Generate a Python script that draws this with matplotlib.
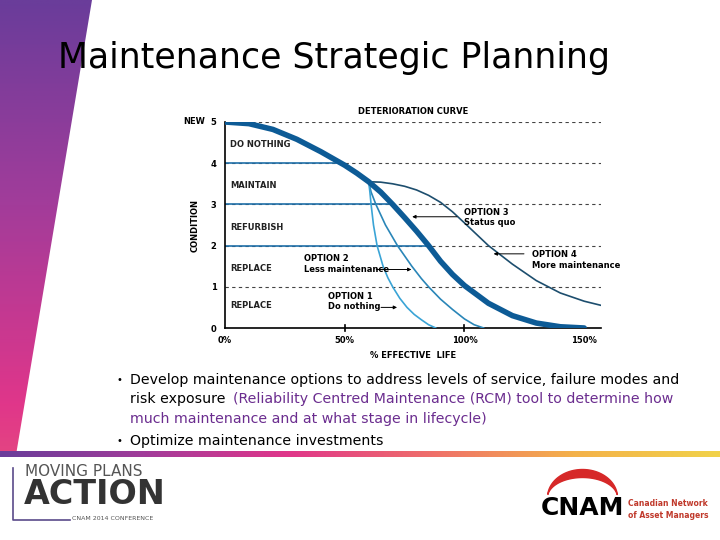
import numpy as np
import matplotlib
matplotlib.use("Agg")
import matplotlib.pyplot as plt
from matplotlib.patches import Polygon
from matplotlib.colors import LinearSegmentedColormap

main_x = [0, 10, 20, 30, 40, 50, 55, 60, 65, 70, 75, 80, 85, 90, 95, 100, 110, 120, 130, 140, 150]
main_y = [5, 4.96, 4.82, 4.58, 4.28, 3.95, 3.76, 3.55, 3.3, 3.0, 2.68, 2.35, 2.0, 1.62, 1.3, 1.03, 0.6, 0.3, 0.12, 0.03, 0]
opt4_x = [60, 65, 70, 75, 80, 85, 90, 95, 100, 110, 120, 130, 140, 150, 157]
opt4_y = [3.55, 3.54, 3.5, 3.44, 3.35, 3.22, 3.05, 2.82, 2.55, 2.0, 1.55, 1.15, 0.85, 0.65, 0.55]
opt2_x = [60, 61, 63, 65, 67, 70, 72, 75, 78, 82, 85, 90, 95, 100, 104, 108]
opt2_y = [3.55, 3.3, 3.0, 2.75, 2.5, 2.2, 2.0, 1.75, 1.5, 1.2, 1.0, 0.7, 0.45, 0.22, 0.08, 0]
opt1_x = [60, 60.5, 61, 62, 63.5, 65, 66, 68, 70, 73, 76, 79, 82, 85, 88]
opt1_y = [3.55, 3.3, 3.0, 2.5, 2.0, 1.7, 1.5, 1.22, 1.0, 0.72, 0.5, 0.33, 0.2, 0.08, 0]
levels = [1, 2, 3, 4, 5]
solid_levels = [2, 3, 4]
zone_labels = ["DO NOTHING", "MAINTAIN", "REFURBISH", "REPLACE", "REPLACE"]
zone_y = [4.45, 3.45, 2.45, 1.45, 0.55]
xticks = [0, 50, 100, 150]
xtick_labels = ["0%", "50%", "100%", "150%"]

W, H = 720, 540
fig = plt.figure(figsize=(7.2, 5.4), dpi=100)
bg = fig.add_axes([0, 0, 1, 1])
bg.set_xlim(0, W); bg.set_ylim(H, 0); bg.axis("off")

cmap = LinearSegmentedColormap.from_list("g", ["#6a3d9a", "#a23c9a", "#e0368a", "#ef6f6a", "#f4b24a", "#f1d24a"])
grad = np.linspace(0, 0.45, 256).reshape(-1, 1)
im = bg.imshow(grad, extent=[0, 95, 455, 0], cmap=cmap, vmin=0, vmax=1, aspect="auto", zorder=0)
poly = Polygon([(0, 0), (92, 0), (16, 455), (0, 455)], transform=bg.transData, facecolor="none", edgecolor="none")
bg.add_patch(poly); im.set_clip_path(poly)
hgrad = np.linspace(0, 1, 256).reshape(1, -1)
bg.imshow(hgrad, extent=[0, 720, 457, 451], cmap=cmap, aspect="auto", zorder=0)
bg.set_xlim(0, W); bg.set_ylim(H, 0)

bg.text(58, 58, "Maintenance Strategic Planning", fontsize=25, va="center", ha="left", color="black")

fs = 10.2
bg.text(116, 380, "•", fontsize=7, va="center")
bg.text(130, 380, "Develop maintenance options to address levels of service, failure modes and", fontsize=fs, va="center")
bg.text(130, 399, "risk exposure", fontsize=fs, va="center")
bg.text(233, 399, "(Reliability Centred Maintenance (RCM) tool to determine how", fontsize=fs, va="center", color="#6b2d8f")
bg.text(130, 419, "much maintenance and at what stage in lifecycle)", fontsize=fs, va="center", color="#6b2d8f")
bg.text(116, 441, "•", fontsize=7, va="center")
bg.text(130, 441, "Optimize maintenance investments", fontsize=fs, va="center")

bg.plot([13, 13, 70], [468, 520, 520], color="#5a4a8a", lw=1.2)
bg.text(25, 471, "MOVING PLANS", fontsize=11, color="#555555", va="center")
bg.text(24, 494, "ACTION", fontsize=24, fontweight="bold", color="#333333", va="center")
bg.text(72, 518, "CNAM 2014 CONFERENCE", fontsize=4.5, color="#555555", va="center")
bg.text(541, 508, "CNAM", fontsize=18, fontweight="bold", color="black", va="center")
bg.text(628, 503, "Canadian Network", fontsize=5.5, fontweight="bold", color="#c0392b", va="center")
bg.text(628, 516, "of Asset Managers", fontsize=5.5, fontweight="bold", color="#c0392b", va="center")
th = np.linspace(0.15, np.pi * 0.95, 50)
bg.fill_between(582 + 35 * np.cos(th[::-1]), 497 - 28 * np.sin(th[::-1]), 497 - 20 * np.sin(th[::-1]), color="#d62828")

ax = fig.add_axes([225 / W, 1 - 328 / H, 376 / W, 206 / H])
ax.set_xlim(0, 157); ax.set_ylim(0, 5)
for s in ["top", "right"]:
    ax.spines[s].set_visible(False)
for lv in levels:
    ax.axhline(lv, color="#444444", ls=(0, (3, 3)), lw=0.8, zorder=1)
blue = "#1f6fa8"
for lv in solid_levels:
    xi = np.interp(-lv, [-y for y in main_y], main_x)
    ax.plot([0, xi], [lv, lv], color=blue, lw=1.2, zorder=2)
ax.plot(main_x, main_y, color="#0d5b96", lw=4, zorder=4, solid_capstyle="round")
ax.plot(opt4_x, opt4_y, color="#1d4e6e", lw=1.2, zorder=3)
ax.plot(opt2_x, opt2_y, color="#2a86b8", lw=1.2, zorder=3)
ax.plot(opt1_x, opt1_y, color="#3aa4d6", lw=1.2, zorder=3)
ax.set_xticks(xticks); ax.set_xticklabels(xtick_labels, fontsize=6, fontweight="bold")
ax.set_yticks([0, 1, 2, 3, 4, 5]); ax.set_yticklabels(["0", "1", "2", "3", "4", "5"], fontsize=6, fontweight="bold")
ax.tick_params(length=0, pad=6)
ax.spines["left"].set_linewidth(1.2); ax.spines["bottom"].set_linewidth(1.2)
for x in [50, 100]:
    ax.plot([x, x], [-0.07, 0.07], color="black", lw=1.2, clip_on=False)
for lab, y in zip(zone_labels, zone_y):
    ax.text(2, y, lab, fontsize=6, va="center", fontweight="bold", color="#222222")
ax.text(-8.5, 5, "NEW", fontsize=6, va="center", ha="right", fontweight="bold")
ax.set_title("DETERIORATION CURVE", fontsize=6, fontweight="bold", pad=6)
ax.set_xlabel("% EFFECTIVE  LIFE", fontsize=6, fontweight="bold", labelpad=4)
ax.set_ylabel("CONDITION", fontsize=6, fontweight="bold", labelpad=8)
tk = dict(fontsize=6, fontweight="bold", va="center")
arr = dict(arrowstyle="-|>", color="black", lw=0.7, mutation_scale=5)
ax.text(100, 2.68, "OPTION 3\nStatus quo", **tk)
ax.annotate("", xy=(77, 2.7), xytext=(98, 2.7), arrowprops=arr)
ax.text(128, 1.65, "OPTION 4\nMore maintenance", **tk)
ax.annotate("", xy=(111, 1.8), xytext=(126, 1.8), arrowprops=arr)
ax.text(33, 1.55, "OPTION 2\nLess maintenance", **tk)
ax.annotate("", xy=(79, 1.42), xytext=(62, 1.42), arrowprops=arr)
ax.text(43, 0.65, "OPTION 1\nDo nothing", **tk)
ax.annotate("", xy=(73, 0.5), xytext=(64, 0.5), arrowprops=arr)
fig.savefig("out.png", dpi=100)
